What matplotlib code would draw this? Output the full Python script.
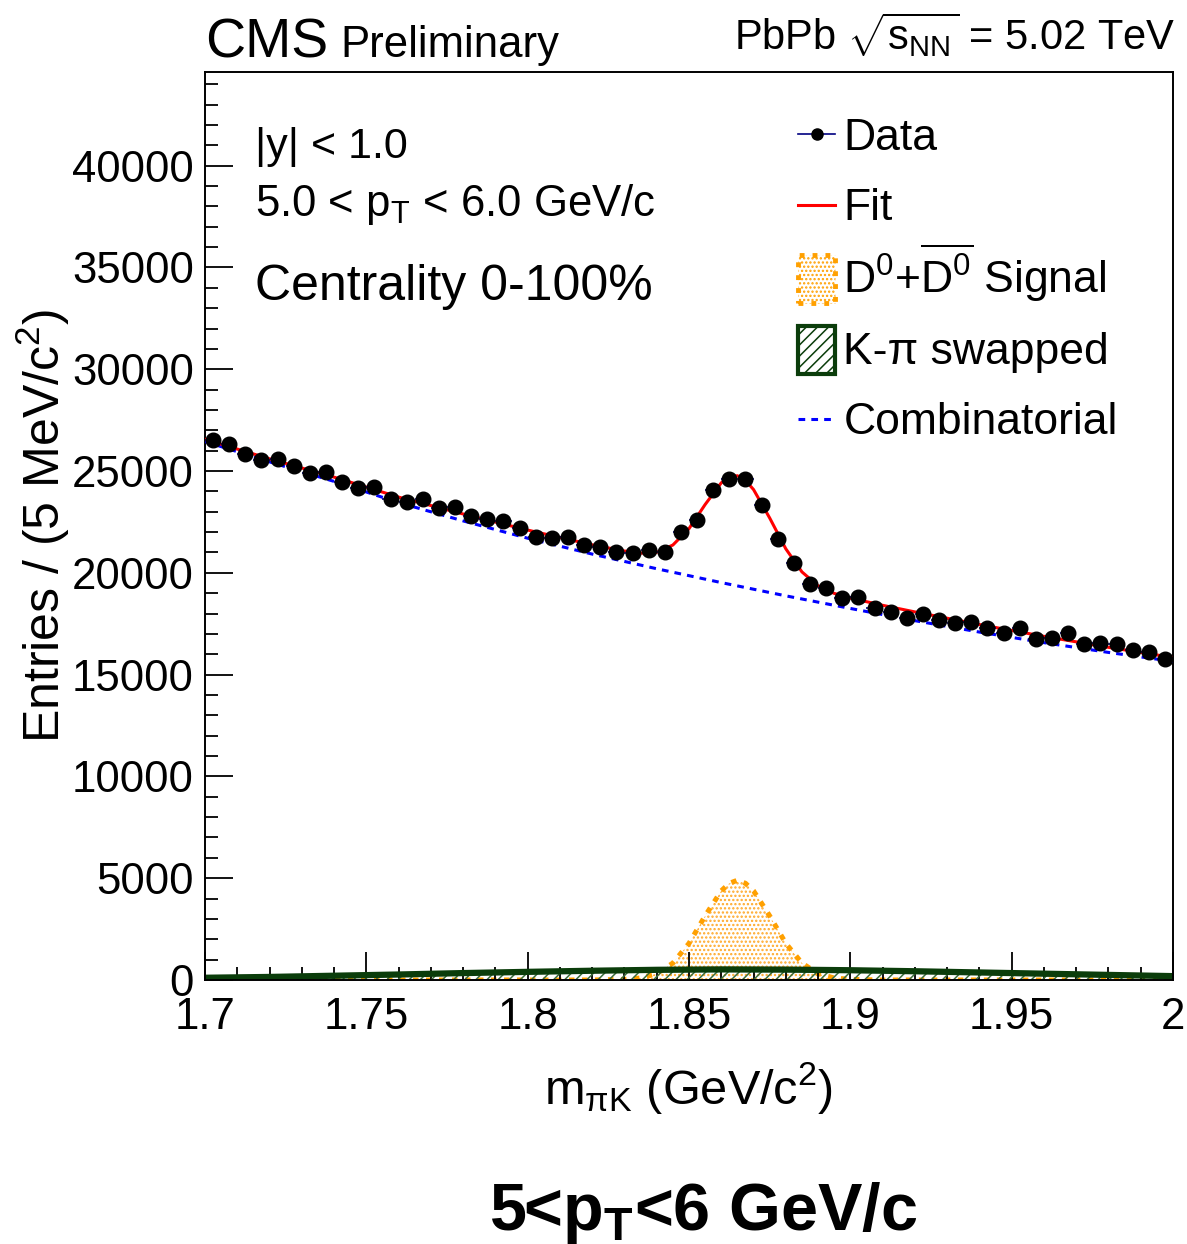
import numpy as np
import matplotlib
matplotlib.use("Agg")
import matplotlib.pyplot as plt
from matplotlib.lines import Line2D
from matplotlib.patches import Patch, Rectangle
from matplotlib.legend_handler import HandlerPatch, HandlerLine2D
from matplotlib.ticker import MultipleLocator, FuncFormatter

plt.rcParams["font.family"] = ["Liberation Sans", "DejaVu Sans"]
plt.rcParams["mathtext.fontset"] = "custom"
plt.rcParams["mathtext.rm"] = "Liberation Sans"
plt.rcParams["mathtext.it"] = "Liberation Sans:italic"
plt.rcParams["mathtext.bf"] = "Liberation Sans:bold"
plt.rcParams["mathtext.default"] = "regular"
plt.rcParams["hatch.linewidth"] = 1.1

# D0 candidates per 5 MeV bin, 1.70 - 2.00 GeV/c2 (60 bins)
counts = [26520, 26330, 25820, 25540, 25570, 25260, 24920, 24970, 24440, 24180,
          24200, 23610, 23490, 23620, 23200, 23220, 22800, 22640, 22540, 22190,
          21770, 21690, 21740, 21350, 21250, 21040, 20990, 21120, 21010, 22020,
          22590, 24070, 24610, 24610, 23320, 21650, 20470, 19440, 19240, 18750,
          18800, 18290, 18060, 17770, 17960, 17680, 17550, 17570, 17270, 17030,
          17270, 16750, 16780, 17030, 16490, 16570, 16500, 16210, 16100, 15780]

# total fit (red)
fit_mass = [1.70, 1.72, 1.74, 1.76, 1.78, 1.80, 1.82, 1.83, 1.835, 1.84, 1.845,
            1.85, 1.855, 1.86, 1.8625, 1.865, 1.8675, 1.87, 1.875, 1.88, 1.885,
            1.89, 1.895, 1.90, 1.91, 1.92, 1.94, 1.96, 1.98, 2.00]
fit_vals = [26560, 25600, 24700, 23720, 22890, 22100, 21375, 21070, 20965, 21010, 21365,
            22170, 23355, 24420, 24710, 24770, 24540, 24090, 22695, 21180, 20045,
            19360, 18990, 18760, 18405, 18080, 17460, 16880, 16340, 15840]

# combinatorial background (blue dashed)
bkg_mass = [1.70, 1.72, 1.74, 1.76, 1.78, 1.80, 1.82, 1.84, 1.86, 1.88,
            1.90, 1.92, 1.94, 1.96, 1.98, 2.00]
bkg_vals = [26450, 25450, 24490, 23450, 22550, 21700, 20920, 20200, 19520, 18870,
            18250, 17650, 17090, 16570, 16090, 15650]

# D0 + D0bar signal (orange)
sig_mass = [1.70, 1.82, 1.83, 1.835, 1.84, 1.845, 1.85, 1.855, 1.86, 1.8625, 1.865,
            1.8675, 1.87, 1.875, 1.88, 1.885, 1.89, 1.895, 1.90, 1.91, 2.00]
sig_vals = [0, 0, 30, 100, 310, 830, 1800, 3150, 4380, 4750, 4900,
            4750, 4380, 3150, 1800, 830, 310, 100, 30, 0, 0]

# K-pi swapped (green)
swap_mass = [1.70, 1.72, 1.74, 1.76, 1.78, 1.80, 1.82, 1.84, 1.86, 1.88,
             1.90, 1.92, 1.94, 1.96, 1.98, 2.00]
swap_vals = [110, 150, 210, 270, 340, 400, 455, 500, 520, 510,
             480, 430, 370, 310, 250, 190]

edges = np.linspace(1.70, 2.00, 61)
centers = 0.5 * (edges[:-1] + edges[1:])
half_bin = 0.5 * (edges[1] - edges[0])

orange = "#ffa000"
dkgreen = "#0b3d0b"


def legend_box(legend, orig_handle, xdescent, ydescent, width, height, fontsize):
    # box a bit shorter than the row so the rows stay evenly spaced
    h = 0.68 * height
    return Rectangle((-xdescent, -ydescent + 0.5 * (height - h)), width, h)


class ShiftedLine(HandlerLine2D):
    # put line keys level with the middle of the label
    def create_artists(self, legend, orig_handle, xdescent, ydescent, width,
                       height, fontsize, trans):
        artists = super().create_artists(legend, orig_handle, xdescent, ydescent,
                                         width, height, fontsize, trans)
        for a in artists:
            a.set_ydata(np.asarray(a.get_ydata()) - 6.5)
        return artists


fig = plt.figure(figsize=(11.87, 12.44), dpi=100)
ax = fig.add_axes([205 / 1187, 264 / 1244, 968 / 1187, 908 / 1244])

ax.fill_between(sig_mass, sig_vals, 0, facecolor="none", edgecolor="#ffa828",
                hatch="....", linewidth=0, zorder=1)
ax.plot(sig_mass, sig_vals, color=orange, lw=3.6, linestyle=(0, (1.1, 1.5)),
        zorder=1.5)
ax.fill_between(swap_mass, swap_vals, 0, facecolor="none", edgecolor="#3c6e3c",
                hatch="///", linewidth=0, zorder=2)
ax.plot(swap_mass, swap_vals, color=dkgreen, lw=4.5, zorder=2.2)
ax.plot(bkg_mass, bkg_vals, color="#0000ff", lw=2.2, linestyle=(0, (2.2, 2.0)),
        zorder=3)
ax.plot(fit_mass, fit_vals, color="#ff0000", lw=2.2, zorder=3.5)
ax.errorbar(centers, counts, xerr=half_bin, fmt="o", color="black",
            ecolor="#000080", elinewidth=1.2, markersize=10.5, capsize=0, zorder=5)

ax.set_xlim(1.70, 2.00)
ax.set_ylim(0, 44600)
ax.xaxis.set_major_locator(MultipleLocator(0.05))
ax.xaxis.set_minor_locator(MultipleLocator(0.01))
ax.yaxis.set_major_locator(MultipleLocator(5000))
ax.yaxis.set_minor_locator(MultipleLocator(1000))
ax.xaxis.set_major_formatter(FuncFormatter(lambda v, p: "%g" % round(v, 3)))
ax.tick_params(which="both", direction="in", top=False, right=False,
               labelsize=31.5, width=1.3)
ax.tick_params(which="major", length=20)
ax.tick_params(which="minor", length=9.5)
ax.tick_params(axis="x", pad=12)
ax.tick_params(axis="y", pad=8)
for sp in ax.spines.values():
    sp.set_linewidth(1.4)

ax.set_xlabel("m$_{\\mathrm{\u03c0K}}$ (GeV/c$^{2}$)", fontsize=35, labelpad=16)
ax.set_ylabel("Entries / (5 MeV/c$^{2}$)", fontsize=36, labelpad=0)

ax.text(0.0517, 0.905, "|y| < 1.0", transform=ax.transAxes, fontsize=31,
        va="baseline")
ax.text(0.0517, 0.841, "5.0 < p$_{\\mathrm{T}}$ < 6.0 GeV/c", transform=ax.transAxes,
        fontsize=31.5, va="baseline")
ax.text(0.0517, 0.749, "Centrality 0-100%", transform=ax.transAxes, fontsize=36,
        va="baseline")

handles = [
    Line2D([], [], color="#000080", lw=1.2, marker="o", mfc="black", mec="black", ms=8),
    Line2D([], [], color="#ff0000", lw=2.2),
    Patch(facecolor="none", edgecolor=orange, hatch="....", linestyle=":", linewidth=3.5),
    Patch(facecolor="none", edgecolor=dkgreen, hatch="///", linewidth=3),
    Line2D([], [], color="#0000ff", lw=2.2, linestyle=(0, (2.2, 2.0))),
]
labels = ["Data", "Fit", "D$^{0}$+$\\overline{\\mathrm{D}^{0}}$ Signal",
          "K-\u03c0 swapped", "Combinatorial"]
ax.legend(handles, labels, loc="upper left", bbox_to_anchor=(0.6126, 0.969),
          fontsize=32, frameon=False, handlelength=0.84, handleheight=2.07,
          handletextpad=0.18, labelspacing=0.0, borderpad=0, borderaxespad=0,
          handler_map={Patch: HandlerPatch(patch_func=legend_box),
                       Line2D: ShiftedLine()})

fig.text(205 / 1187, 0.954, "CMS", fontsize=40, va="baseline")
fig.text(340 / 1187, 0.954, "Preliminary", fontsize=31.5, va="baseline")
fig.text(0.9899, 0.960, "PbPb $\\sqrt{\\mathrm{s}_{\\mathrm{NN}}}$ = 5.02 TeV",
         fontsize=30, ha="right", va="baseline")
fig.text(0.592, 0.0113, "5<p$_{\\mathbf{T}}$<6 GeV/c", fontsize=48,
         fontweight="bold", ha="center", va="baseline")

fig.savefig("out.png", dpi=100)
